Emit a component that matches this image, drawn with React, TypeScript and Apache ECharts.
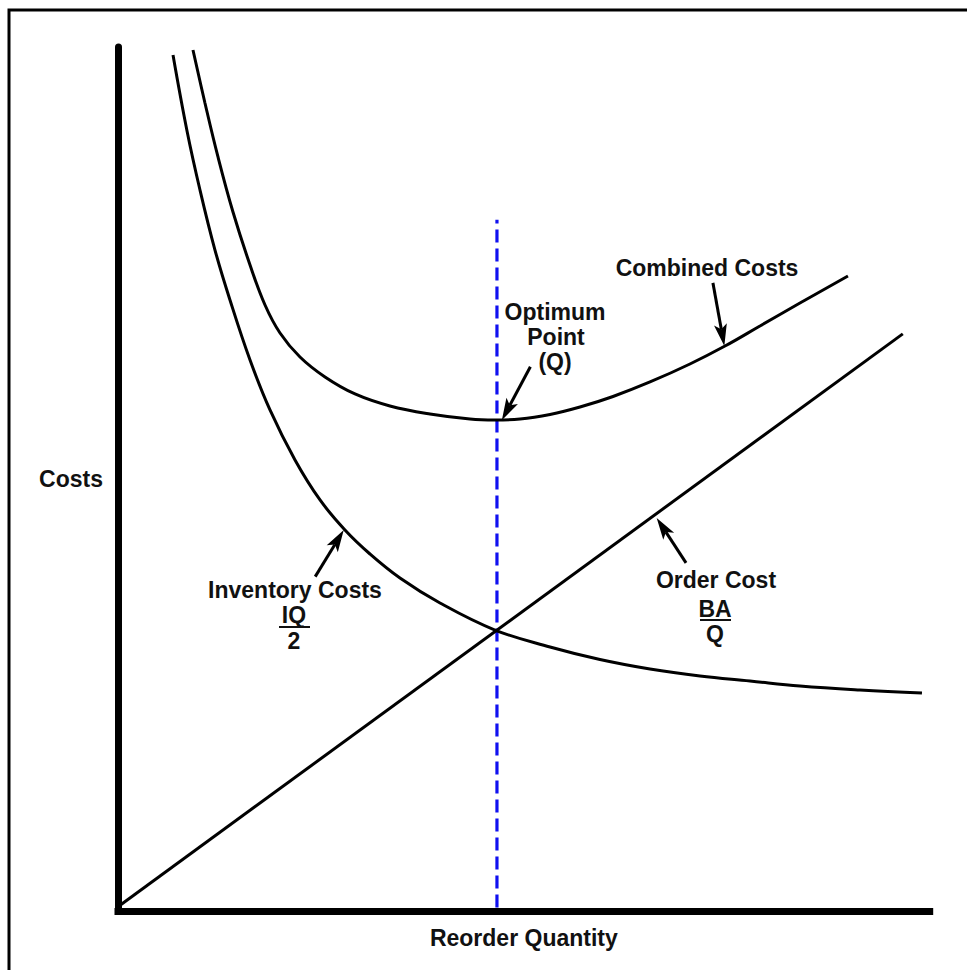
import React, { useEffect, useRef } from "react";
import * as echarts from "echarts";

// Inventory cost curve (decreasing) — [reorder quantity, cost]
const inventoryCosts: [number, number][] = [
  [6.75, 99.07], [8.47, 90.28], [10.06, 83.45], [11.9, 76.5], [13.74, 70.72],
  [16.2, 63.77], [18.65, 57.99], [21.72, 52.2], [24.79, 47.57], [27.85, 44.1],
  [30.92, 41.32], [34.6, 38.54], [39.51, 35.65], [46.26, 32.52], [53.01, 30.56],
  [59.14, 29.11], [65.28, 28.01], [71.41, 27.2], [77.55, 26.62], [83.68, 26.04],
  [91.04, 25.58], [98.65, 25.23],
];

// Combined cost curve (U-shaped)
const combinedCosts: [number, number][] = [
  [9.2, 99.65], [10.67, 93.52], [12.27, 87.27], [14.11, 80.9], [16.2, 74.77],
  [18.04, 70.14], [19.88, 66.9], [22.33, 64.12], [25.4, 61.81], [29.08, 59.84],
  [33.37, 58.45], [38.28, 57.52], [43.19, 56.94], [46.26, 56.83], [49.33, 56.94],
  [53.01, 57.47], [56.69, 58.33], [60.74, 59.55], [65.28, 61.23], [70.18, 63.31],
  [74.48, 65.39], [78.77, 67.71], [83.68, 70.37], [89.57, 73.5],
];

// Order cost (straight rising line)
const orderCost: [number, number][] = [
  [0, 0.5], [96.3, 66.8],
];

// Optimum point (Q) vertical reference
const optimumLine: [number, number][] = [
  [46.5, 0.4], [46.5, 80],
];

// Annotation arrows: [tail, tip] in data coordinates
const arrowTails: [number, number][] = [[73.0, 72.7], [50.6, 63.0], [24.2, 38.7], [69.7, 40.3]];
const arrowTips: [number, number][] = [[74.4, 65.4], [47.1, 56.8], [27.7, 44.1], [66.1, 45.5]];

const FONT = '"Liberation Sans", Arial, Helvetica, sans-serif';

export default function App() {
  const ref = useRef<HTMLDivElement>(null);

  useEffect(() => {
    if (!ref.current) return;
    const chart = echarts.init(ref.current, undefined, { renderer: "svg" });

    const lineSeries = (name: string, data: [number, number][], smooth: boolean) => ({
      name,
      type: "line",
      data,
      showSymbol: false,
      symbol: "none",
      smooth: smooth ? 0.4 : false,
      lineStyle: { color: "#000", width: 3 },
      z: 3,
    });

    chart.setOption({
      animation: false,
      backgroundColor: "#fff",
      grid: { left: 118, top: 47, right: 37.3, bottom: 59 },
      xAxis: {
        type: "value",
        min: 0,
        max: 99.6,
        name: "Reorder Quantity",
        nameLocation: "middle",
        nameGap: 15,
        nameTextStyle: { color: "#111", fontFamily: FONT, fontWeight: "bold", fontSize: 23 },
        axisLine: { show: true, lineStyle: { color: "#000", width: 7, cap: "square" } },
        axisTick: { show: false },
        axisLabel: { show: false },
        splitLine: { show: false },
      },
      yAxis: {
        type: "value",
        min: 0,
        max: 100,
        name: "Costs",
        nameLocation: "middle",
        nameRotate: 0,
        nameGap: 15,
        nameTextStyle: { color: "#111", fontFamily: FONT, fontWeight: "bold", fontSize: 23 },
        axisLine: { show: true, lineStyle: { color: "#000", width: 7 } },
        axisTick: { show: false },
        axisLabel: { show: false },
        splitLine: { show: false },
      },
      series: [
        lineSeries("Inventory Costs", inventoryCosts, true),
        lineSeries("Combined Costs", combinedCosts, true),
        lineSeries("Order Cost", orderCost, false),
        {
          name: "Optimum Point (Q)",
          type: "line",
          data: optimumLine,
          symbol: "none",
          lineStyle: { color: "#1010f0", width: 3.2, type: [13, 6] },
          z: 2,
        },
      ],
    });

    const px = (p: [number, number]) =>
      chart.convertToPixel({ gridIndex: 0 }, p) as number[];

    const arrowEls: any[] = [];
    arrowTails.forEach((tail, i) => {
      const [x1, y1] = px(tail);
      const [x2, y2] = px(arrowTips[i]);
      const dx = x2 - x1, dy = y2 - y1;
      const L = Math.hypot(dx, dy);
      const ux = dx / L, uy = dy / L;
      const nx = -uy, ny = ux;
      const hl = 22, hw = 6.5, notch = 17;
      const bx = x2 - ux * hl, by = y2 - uy * hl;
      const mx = x2 - ux * notch, my = y2 - uy * notch;
      arrowEls.push({
        type: "line",
        shape: { x1, y1, x2: mx, y2: my },
        style: { stroke: "#000", lineWidth: 3 },
        z: 10,
      });
      arrowEls.push({
        type: "polygon",
        shape: { points: [[x2, y2], [bx + nx * hw, by + ny * hw], [mx, my], [bx - nx * hw, by - ny * hw]] },
        style: { fill: "#000" },
        z: 10,
      });
    });

    const txt = (text: string, x: number, y: number) => ({
      type: "text",
      x,
      y,
      z: 10,
      style: {
        text,
        fill: "#111",
        font: `bold 23px ${FONT}`,
        align: "center",
        verticalAlign: "middle",
      },
    });
    const bar = (x1: number, x2: number, y: number) => ({
      type: "line",
      z: 10,
      shape: { x1, y1: y, x2, y2: y },
      style: { stroke: "#111", lineWidth: 2 },
    });

    chart.setOption({
      graphic: [
        {
          type: "rect",
          shape: { x: 9, y: 10, width: 980, height: 980 },
          style: { fill: "none", stroke: "#000", lineWidth: 3 },
          z: 20,
        },
        txt("Combined Costs", 707, 268),
        txt("Optimum", 555, 312),
        txt("Point", 556, 337),
        txt("(Q)", 555, 362),
        txt("Inventory Costs", 295, 590),
        txt("IQ", 294, 615),
        bar(279, 310, 627),
        txt("2", 294, 641),
        txt("Order Cost", 716, 580),
        txt("BA", 715, 609),
        bar(700, 731, 620),
        txt("Q", 715, 634),
        ...arrowEls,
      ],
    });

    return () => chart.dispose();
  }, []);

  return (
    <div
      ref={ref}
      style={{ position: "fixed", left: 0, top: 0, width: 967, height: 970, background: "#fff" }}
    />
  );
}
